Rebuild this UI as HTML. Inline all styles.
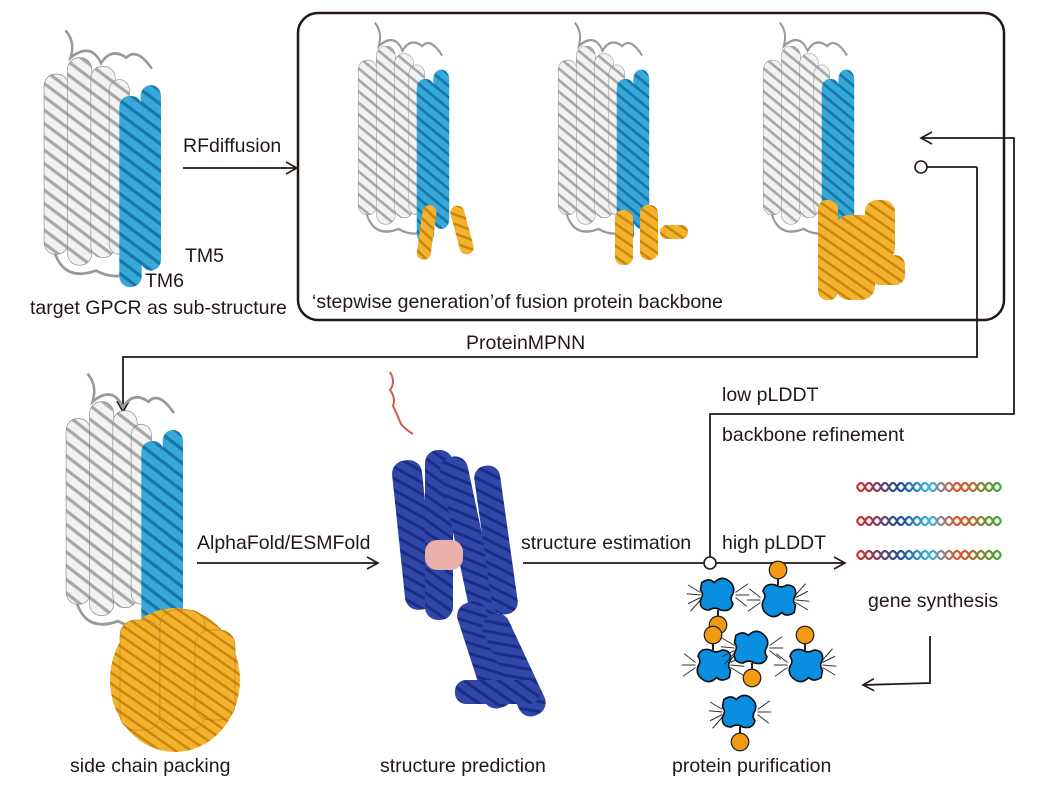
<!DOCTYPE html>
<html><head><meta charset="utf-8"><style>
html,body{margin:0;padding:0;background:#fff}
svg{display:block}
text{font-family:"Liberation Sans",sans-serif;font-size:19.5px;fill:#231815}
</style></head><body>
<svg width="1038" height="789" viewBox="0 0 1038 789" xmlns="http://www.w3.org/2000/svg">
<defs>
<pattern id="pg" width="10" height="10" patternUnits="userSpaceOnUse" patternTransform="rotate(35)"><rect width="10" height="10" fill="#f2f2f2"/><rect width="10" height="3" fill="#a8a8a8"/></pattern>
<pattern id="pb" width="10" height="10" patternUnits="userSpaceOnUse" patternTransform="rotate(35)"><rect width="10" height="10" fill="#38a8d8"/><rect width="10" height="3" fill="#1477a8"/></pattern>
<pattern id="po" width="9" height="9" patternUnits="userSpaceOnUse" patternTransform="rotate(35)"><rect width="9" height="9" fill="#f3b32c"/><rect width="9" height="2.5" fill="#c9860f"/></pattern>
<pattern id="pn" width="10" height="10" patternUnits="userSpaceOnUse" patternTransform="rotate(35)"><rect width="10" height="10" fill="#3047a8"/><rect width="10" height="3" fill="#1a2d85"/></pattern>
<symbol id="gp" viewBox="0 0 120 240" preserveAspectRatio="none">
<path d="M25 5 q10 10 5 25 q20 -15 30 5 q10 -15 25 -5 q10 -10 25 10" fill="none" stroke="#999" stroke-width="2.5"/>
<path d="M15 210 q10 25 40 15 q20 10 40 0" fill="none" stroke="#999" stroke-width="2.5"/>
<rect x="4" y="45" width="24" height="165" rx="11" fill="url(#pg)" stroke="#888" stroke-width="0.6"/>
<rect x="27" y="30" width="24" height="190" rx="11" fill="url(#pg)" stroke="#888" stroke-width="0.6"/>
<rect x="50" y="38" width="24" height="175" rx="11" fill="url(#pg)" stroke="#888" stroke-width="0.6"/>
<rect x="68" y="50" width="20" height="160" rx="10" fill="url(#pg)" stroke="#888" stroke-width="0.6"/>
<rect x="78" y="65" width="22" height="175" rx="10" fill="url(#pb)"/>
<rect x="99" y="55" width="20" height="170" rx="10" fill="url(#pb)"/>
</symbol>
<g id="dna">
<path d="M0 0 q4 -8 8 0 t8 0 t8 0 t8 0 t8 0 t8 0 t8 0 t8 0 t8 0 t8 0 t8 0 t8 0 t8 0 t8 0 t8 0 t8 0 t8 0 t8 0" fill="none" stroke="url(#dg)" stroke-width="2.2"/>
<path d="M0 0 q4 8 8 0 t8 0 t8 0 t8 0 t8 0 t8 0 t8 0 t8 0 t8 0 t8 0 t8 0 t8 0 t8 0 t8 0 t8 0 t8 0 t8 0 t8 0" fill="none" stroke="url(#dg)" stroke-width="2.2"/>
</g>
<linearGradient id="dg" x1="0" x2="1"><stop offset="0" stop-color="#d8302a"/><stop offset="0.3" stop-color="#1f4f9a"/><stop offset="0.5" stop-color="#3cb4dc"/><stop offset="0.7" stop-color="#e8502a"/><stop offset="1" stop-color="#3aaa40"/></linearGradient>
<g id="prot0">
<g stroke="#333" stroke-width="0.8"><path d="M-14 -2 l-10 -6 M-14 0 l-11 -1 M-14 2 l-10 5 M-14 4 l-8 9 M14 -2 l10 -7 M14 0 l11 0 M14 2 l9 7"/></g>
<path d="M-13 -10 q6 -4 10 0 q6 -6 12 -1 q5 4 3 10 q-3 4 0 8 q-2 7 -10 5 q-5 -3 -9 0 q-8 0 -7 -8 q3 -5 0 -8 z" fill="#0a8ee0" stroke="#111" stroke-width="1.3"/>
<line x1="0" y1="12" x2="0" y2="18" stroke="#111" stroke-width="1.5"/>
<circle cx="0" cy="24" r="7" fill="#f39a10" stroke="#222" stroke-width="1"/>
</g>
<g id="prot"><use href="#prot0" transform="scale(1.25)"/></g>
<marker id="ah" markerWidth="14" markerHeight="14" refX="12" refY="7" orient="auto" markerUnits="userSpaceOnUse"><path d="M1 1 L12 7 L1 13" fill="none" stroke="#231815" stroke-width="1.6"/></marker>
</defs>

<use href="#gp" x="40" y="25" width="122" height="262"/>
<text x="185" y="262">TM5</text>
<text x="145" y="287">TM6</text>
<text x="30" y="314">target GPCR as sub-structure</text>

<text x="183" y="152">RFdiffusion</text>
<line x1="183" y1="168" x2="297" y2="168" stroke="#231815" stroke-width="1.8" marker-end="url(#ah)"/>

<rect x="298" y="13" width="706" height="307" rx="20" fill="none" stroke="#231815" stroke-width="2.5"/>
<use href="#gp" x="355" y="18" width="95" height="225"/>
<use href="#gp" x="555" y="18" width="95" height="225"/>
<use href="#gp" x="760" y="18" width="95" height="225"/>
<rect x="420" y="205" width="14" height="55" rx="7" fill="url(#po)" transform="rotate(8 427 230)"/>
<rect x="455" y="205" width="14" height="50" rx="7" fill="url(#po)" transform="rotate(-15 462 230)"/>
<rect x="615" y="210" width="18" height="55" rx="8" fill="url(#po)"/>
<rect x="640" y="205" width="18" height="55" rx="8" fill="url(#po)"/>
<rect x="660" y="225" width="28" height="14" rx="7" fill="url(#po)"/>
<rect x="818" y="200" width="20" height="100" rx="9" fill="url(#po)"/>
<rect x="835" y="215" width="40" height="85" rx="14" fill="url(#po)"/>
<rect x="865" y="200" width="30" height="60" rx="12" fill="url(#po)"/>
<rect x="870" y="255" width="35" height="30" rx="10" fill="url(#po)"/>
<text x="312" y="308">‘stepwise generation’of fusion protein backbone</text>

<line x1="921" y1="167" x2="977" y2="167" stroke="#231815" stroke-width="1.8"/>
<polyline points="977,167 977,357 123,357 123,412" fill="none" stroke="#231815" stroke-width="1.8" marker-end="url(#ah)"/>
<circle cx="921" cy="167" r="6" fill="#fff" stroke="#231815" stroke-width="1.6"/>
<text x="466" y="349">ProteinMPNN</text>
<polyline points="710,563 710,414 1014,414 1014,138 921,138" fill="none" stroke="#231815" stroke-width="1.8" marker-end="url(#ah)"/>
<text x="722" y="401">low pLDDT</text>
<text x="722" y="441">backbone refinement</text>

<use href="#gp" x="62" y="368" width="122" height="270"/>
<g>
<ellipse cx="175" cy="680" rx="65" ry="72" fill="url(#po)"/>
<rect x="120" y="620" width="40" height="110" rx="15" fill="url(#po)" stroke="#b5701a" stroke-width="0.5"/>
<rect x="160" y="610" width="45" height="120" rx="15" fill="url(#po)" stroke="#b5701a" stroke-width="0.5"/>
<rect x="195" y="630" width="40" height="90" rx="15" fill="url(#po)" stroke="#b5701a" stroke-width="0.5"/>
</g>
<text x="70" y="772">side chain packing</text>

<text x="197" y="549">AlphaFold/ESMFold</text>
<line x1="197" y1="563" x2="378" y2="563" stroke="#231815" stroke-width="1.8" marker-end="url(#ah)"/>

<path d="M390 372 q6 10 0 18 q6 8 3 16 q5 10 8 18 q5 6 12 10" fill="none" stroke="#d35a50" stroke-width="2"/>
<g>
<rect x="398" y="460" width="30" height="150" rx="13" fill="url(#pn)" transform="rotate(-6 413 530)"/>
<rect x="425" y="450" width="28" height="170" rx="13" fill="url(#pn)"/>
<rect x="455" y="455" width="28" height="170" rx="13" fill="url(#pn)" transform="rotate(-12 469 540)"/>
<rect x="483" y="465" width="26" height="150" rx="12" fill="url(#pn)" transform="rotate(-8 496 540)"/>
<rect x="425" y="540" width="38" height="30" rx="12" fill="#e8b0a8"/>
<rect x="470" y="600" width="30" height="110" rx="13" fill="url(#pn)" transform="rotate(-18 485 655)"/>
<rect x="500" y="610" width="28" height="110" rx="13" fill="url(#pn)" transform="rotate(-25 514 665)"/>
<rect x="455" y="680" width="85" height="24" rx="11" fill="url(#pn)"/>
</g>
<text x="380" y="772">structure prediction</text>

<text x="521" y="549">structure estimation</text>
<line x1="523" y1="563" x2="845" y2="563" stroke="#231815" stroke-width="1.8" marker-end="url(#ah)"/>
<circle cx="710" cy="563" r="6" fill="#fff" stroke="#231815" stroke-width="1.6"/>
<text x="722" y="549">high pLDDT</text>

<use href="#dna" x="857" y="487"/>
<use href="#dna" x="857" y="521"/>
<use href="#dna" x="857" y="555"/>
<text x="868" y="607">gene synthesis</text>
<polyline points="930,636 930,683 863,685" fill="none" stroke="#231815" stroke-width="1.8" marker-end="url(#ah)"/>

<use href="#prot" x="718" y="595"/>
<use href="#prot" x="778" y="600" transform="rotate(180 778 600)"/>
<use href="#prot" x="713" y="665" transform="rotate(180 713 665)"/>
<use href="#prot" x="752" y="648"/>
<use href="#prot" x="805" y="665" transform="rotate(180 805 665)"/>
<use href="#prot" x="740" y="712"/>
<text x="672" y="772">protein purification</text>
</svg>
</body></html>
